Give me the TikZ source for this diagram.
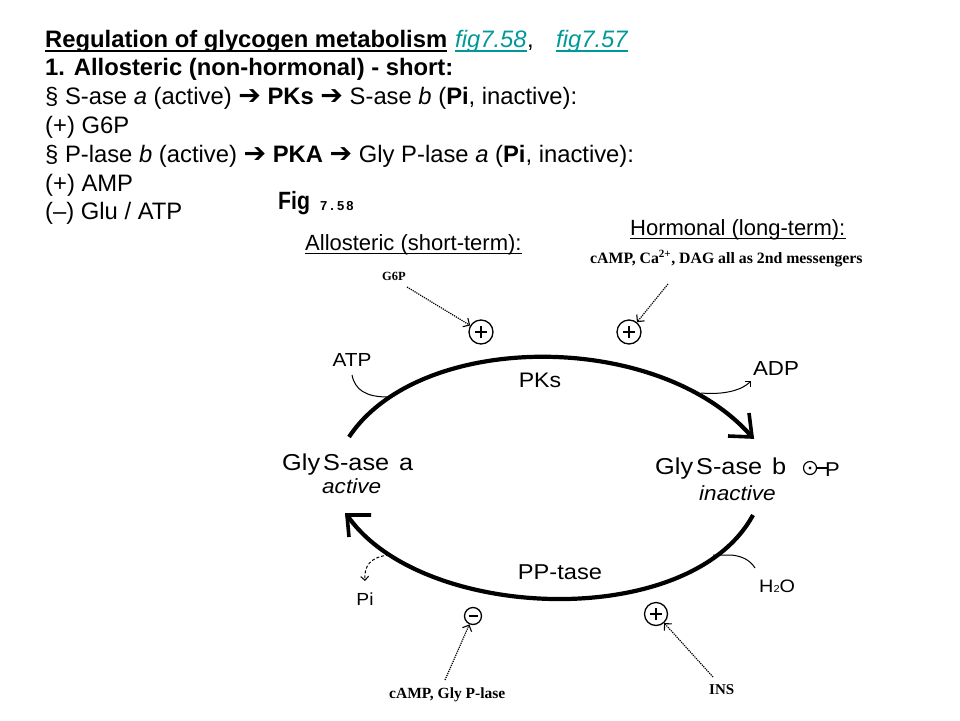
\documentclass[tikz,border=0pt]{standalone}
\usepackage{fontspec}
\setmainfont{Liberation Sans}
\newfontfamily\serifl{Liberation Serif}
\newfontfamily\dejavu{DejaVu Sans}
\newfontfamily\diag{Liberation Sans}[FakeStretch=1.1]
\newfontfamily\figfont{Liberation Sans}[FakeStretch=0.85]
\usetikzlibrary{arrows.meta}
\definecolor{linkteal}{RGB}{0,153,153}
\newcommand{\setfs}[1]{\fontsize{#1}{#1}\selectfont}
\newcommand{\arr}{{\dejavu\bfseries\fontsize{27}{27}\selectfont ➔}}
\begin{document}
\begin{tikzpicture}[x=1pt,y=-1pt,
  txt/.style={inner sep=0pt, anchor=base west},
  lbl/.style={inner sep=0pt},
  top/.style={txt, font=\setfs{23.8}},
  arcline/.style={line width=4.2pt},
  barb/.style={line width=3.6pt, line cap=butt, line join=miter},
  branch/.style={line width=1pt},
  smalltip/.style={-{Straight Barb[length=4pt,width=8pt,line width=1pt]}},
  dotarrow/.style={densely dotted, line width=1.2pt, -{Straight Barb[length=5pt,width=10pt,line width=1.1pt]}},
  ring/.style={circle, draw, line width=1.3pt, inner sep=0pt},
  sign/.style={line width=2pt},
  uline/.style={line width=1.5pt},
  ulthin/.style={line width=1.2pt}
]
\useasboundingbox (0,0) rectangle (960,720);
\fill[white] (0,0) rectangle (960,720);

% ---------- text block ----------
\node[top, font=\setfs{23.8}\bfseries] (t1) at (45,47) {Regulation of glycogen metabolism};
\node[top, font=\setfs{23.8}\itshape, text=linkteal] (t2) at (455,47) {fig7.58};
\node[top, font=\setfs{23.8}] (t3) at (t2.base east) {,};
\node[top, font=\setfs{23.8}\itshape, text=linkteal] (t4) at (556,47) {fig7.57};
\draw[uline] ([yshift=-4pt]t1.base west) -- ([yshift=-4pt]t1.base east);
\draw[uline, linkteal] ([yshift=-4pt]t2.base west) -- ([yshift=-4pt]t2.base east);
\draw[uline, linkteal] ([yshift=-4pt]t4.base west) -- ([yshift=-4pt]t4.base east);

\node[top, font=\setfs{23.8}\bfseries] (l2) at (45,75.8) {1. Allosteric (non-hormonal) - short:};
\node[top] (l3) at (45,104.6) {§ S-ase \textit{a} (active) \arr{} \textbf{PKs} \arr{} S-ase \textit{b} (\textbf{Pi}, inactive):};
\node[top] (l4) at (45,133.4) {(+) G6P};
\node[top] (l5) at (45,162.2) {§ P-lase \textit{b} (active) \arr{} \textbf{PKA} \arr{} Gly P-lase \textit{a} (\textbf{Pi}, inactive):};
\node[top] (l6) at (45,191) {(+) AMP};
\node[top] (l7) at (45,219.8) {(–) Glu / ATP};

% ---------- figure headings ----------
\node[txt, font=\figfont\setfs{25}\bfseries] (fig) at (278,209) {Fig};
\node[txt, font=\setfs{13}\bfseries] (fignum) at (320,210) {7\kern3pt.\kern3pt5\kern2pt8};

\node[txt, font=\setfs{22}] (allo) at (305,250) {Allosteric (short-term):};
\draw[ulthin] ([yshift=-3.5pt]allo.base west) -- ([yshift=-3.5pt]allo.base east);
\node[txt, font=\setfs{22}] (horm) at (630,235) {Hormonal (long-term):};
\draw[ulthin] ([yshift=-3.5pt]horm.base west) -- ([yshift=-3.5pt]horm.base east);
\node[txt, font=\serifl\setfs{15.8}\bfseries] (msg) at (590,263) {cAMP, Ca\textsuperscript{2+}, DAG all as 2nd messengers};
\node[txt, font=\serifl\setfs{12.5}\bfseries] (g6p) at (382,280) {G6P};

% ---------- modulator rings ----------
\node[ring, minimum size=24pt] (p1) at (481,332) {};
\node[ring, minimum size=24pt] (p2) at (629,332) {};
\node[ring, minimum size=17pt] (m1) at (473,616) {};
\node[ring, minimum size=23pt] (p3) at (656,614) {};
\foreach \c in {p1,p2,p3}{
  \draw[sign] ([xshift=-6pt]\c.center) -- ([xshift=6pt]\c.center);
  \draw[sign] ([yshift=-6pt]\c.center) -- ([yshift=6pt]\c.center);
}
\draw[sign] ([xshift=-4.5pt]m1.center) -- ([xshift=4.5pt]m1.center);

% ---------- dotted regulator arrows ----------
\coordinate (g6pA) at (407,287);
\coordinate (msgA) at (668,284);
\coordinate (campA) at (445,680);
\coordinate (insA) at (713,677);
\draw[dotarrow] (g6pA) -- (p1);
\draw[dotarrow] (msgA) -- (p2);
\draw[dotarrow] (campA) -- (m1);
\draw[dotarrow] (insA) -- (p3);

\node[txt, font=\serifl\setfs{15.5}\bfseries] (camp) at (389,698) {cAMP, Gly P-lase};
\node[txt, font=\serifl\setfs{15}\bfseries] (ins) at (709,694) {INS};

% ---------- enzyme states ----------
\node[txt, font=\diag\setfs{23}] (sa) at (282,470) {Gly\kern3pt S-ase\kern10pt a};
\node[txt, font=\diag\setfs{20.5}\itshape] (saact) at (322,493) {active};
\node[txt, font=\diag\setfs{23}] (sb) at (655,474) {Gly\kern3pt S-ase\kern10pt b};
\node[txt, font=\diag\setfs{20.5}\itshape] (sbina) at (699,500) {inactive};

% phosphate tag
\node[ring, line width=1.2pt, minimum size=13pt] (phc) at (810,468) {};
\fill (phc.center) circle (1.7pt);
\node[txt, font=\diag\setfs{20}] (php) at (825,476) {P};
\coordinate (phstem) at (828,468);
\draw[line width=1.2pt] (phc.east) -- (phstem);

% ---------- cycle arcs ----------
\coordinate (u0) at (349,437);
\coordinate (u1) at (752,437);
\draw[arcline] (u0) .. controls (420,330) and (660,330) .. (u1);
\draw[barb] (749,413) -- (u1) -- (728,436);

\coordinate (w0) at (753,515);
\coordinate (w1) at (347,515);
\draw[arcline] (w0) .. controls (690,632) and (420,622) .. (w1);
\draw[barb] (371,515) -- (w1) -- (349,537);

% ---------- side labels ----------
\node[lbl, font=\diag\setfs{18.9}] (atp) at (352,360) {ATP};
\node[lbl, font=\diag\setfs{20.3}] (adp) at (776,369) {ADP};
\node[lbl, font=\diag\setfs{21}] (pks) at (540,380) {PKs};
\node[lbl, font=\diag\setfs{21.5}] (ppt) at (560,572) {PP-tase};
\node[lbl, font=\diag\setfs{17.5}] (pi) at (365,599) {Pi};
\node[txt, font=\diag\setfs{18}] (h2o) at (759,592) {H{\setfs{10}2}O};

\coordinate (atpS) at (352,375);
\coordinate (atpE) at (388,397);
\draw[branch] (atpS) .. controls (355,390) and (366,397) .. (atpE);
\coordinate (adpS) at (701,393);
\coordinate (adpE) at (751,381);
\draw[branch, smalltip] (adpS) .. controls (725,395) and (742,390) .. (adpE);
\coordinate (piS) at (389,555);
\coordinate (piE) at (365,581);
\draw[branch, densely dashed, smalltip] (piS) .. controls (370,557) and (364,566) .. (piE);
\coordinate (hS) at (713,555);
\coordinate (hM) at (731,555);
\coordinate (hE) at (755,568);
\draw[branch] (hS) -- (hM) .. controls (742,556) and (750,560) .. (hE);
\end{tikzpicture}
\end{document}
